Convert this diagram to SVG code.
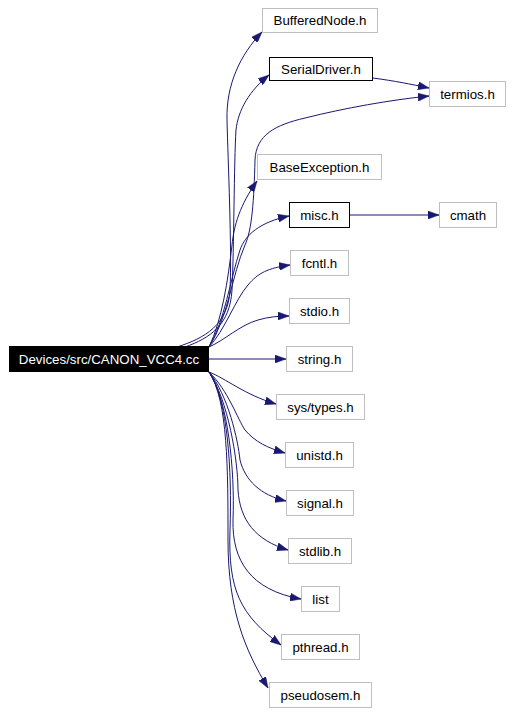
<svg xmlns="http://www.w3.org/2000/svg" width="514" height="714" viewBox="0 0 514 714">
<style>
.n rect{fill:#fff;stroke:#bfbfbf;stroke-width:1}
.n.k rect{stroke:#000}
.n.m rect{fill:#000;stroke:#000}
.n text{font-family:"Liberation Sans",Arial,sans-serif;font-size:13.3px;text-anchor:middle;fill:#000}
.n.m text{fill:#fff}
.e path{fill:none;stroke:#191970;stroke-width:1;marker-end:url(#a)}
</style>
<defs>
<marker id="a" markerUnits="userSpaceOnUse" markerWidth="12" markerHeight="8" refX="11" refY="4" orient="auto">
<path d="M0,0 L11,4 L0,8 z" fill="#191970" stroke="#191970" stroke-width="0.5"/>
</marker>
</defs>
<rect width="514" height="714" fill="#fff"/>
<g id="edges" class="e">
<path d="M177,347 C205,338 228,325 230,290 C232,250 228,160 227,120 C226,85 240,55 262,32"/>
<path d="M185,347 C210,338 230,325 232,290 C234,250 234,160 236,130 C238,110 250,90 269,75"/>
<path d="M373,78 C395,81 410,84 429,88"/>
<path d="M209,347 C228,318 232,275 245,245 C252,230 254,200 255,160 C256,135 275,125 305,118 C345,108 390,100 429,96"/>
<path d="M209,347 C222,320 228,280 232,245 C234,225 240,205 257,181"/>
<path d="M209,347 C225,320 230,280 240,250 C245,235 260,222 289,216"/>
<path d="M350,215 L439,215"/>
<path d="M209,347 C225,330 235,300 248,285 C258,273 268,268 290,265"/>
<path d="M209,347 C225,340 240,325 258,320 C268,317 278,316 289,316"/>
<path d="M209,359 L286,359"/>
<path d="M209,372 C225,378 245,395 276,404"/>
<path d="M209,372 C228,390 238,420 245,430 C255,442 268,448 285,453"/>
<path d="M209,372 C228,395 238,440 240,460 C245,480 260,495 286,501"/>
<path d="M209,372 C228,400 238,460 238,490 C240,520 255,540 288,550"/>
<path d="M209,372 C228,400 235,470 233,520 C232,560 250,590 301,599"/>
<path d="M209,372 C228,400 232,470 230,530 C228,590 240,615 281,645"/>
<path d="M209,372 C228,400 228,470 228,540 C228,610 245,650 268,688"/>
</g>
<g id="main" class="n m"><rect x="9.5" y="346.5" width="199" height="25"/><text x="109" y="364">Devices/src/CANON_VCC4.cc</text></g>
<g id="bufferednode" class="n"><rect x="262.5" y="8.5" width="115" height="24"/><text x="320" y="25">BufferedNode.h</text></g>
<g id="serialdriver" class="n k"><rect x="269.5" y="57.5" width="103" height="23"/><text x="321" y="74">SerialDriver.h</text></g>
<g id="termios" class="n"><rect x="429.5" y="81.5" width="76" height="25"/><text x="467.5" y="98.5">termios.h</text></g>
<g id="baseexception" class="n"><rect x="257.5" y="154.5" width="124" height="25"/><text x="319.5" y="171.5">BaseException.h</text></g>
<g id="misc" class="n k"><rect x="289.5" y="202.5" width="60" height="25"/><text x="319.5" y="219.5">misc.h</text></g>
<g id="cmath" class="n"><rect x="439.5" y="202.5" width="57" height="25"/><text x="468" y="219.5">cmath</text></g>
<g id="fcntl" class="n"><rect x="290.5" y="250.5" width="58" height="25"/><text x="319.5" y="267.5">fcntl.h</text></g>
<g id="stdio" class="n"><rect x="289.5" y="298.5" width="60" height="25"/><text x="319.5" y="315.5">stdio.h</text></g>
<g id="string" class="n"><rect x="286.5" y="346.5" width="66" height="25"/><text x="319.5" y="363.5">string.h</text></g>
<g id="systypes" class="n"><rect x="276.5" y="394.5" width="88" height="25"/><text x="320.5" y="411.5">sys/types.h</text></g>
<g id="unistd" class="n"><rect x="285.5" y="442.5" width="68" height="25"/><text x="319.5" y="459.5">unistd.h</text></g>
<g id="signal" class="n"><rect x="286.5" y="490.5" width="67" height="25"/><text x="320" y="507.5">signal.h</text></g>
<g id="stdlib" class="n"><rect x="288.5" y="538.5" width="63" height="25"/><text x="320" y="555.5">stdlib.h</text></g>
<g id="list" class="n"><rect x="301.5" y="586.5" width="38" height="25"/><text x="320.5" y="603.5">list</text></g>
<g id="pthread" class="n"><rect x="281.5" y="634.5" width="78" height="25"/><text x="320.5" y="651.5">pthread.h</text></g>
<g id="pseudosem" class="n"><rect x="269.5" y="682.5" width="102" height="25"/><text x="320.5" y="699.5">pseudosem.h</text></g>
</svg>
